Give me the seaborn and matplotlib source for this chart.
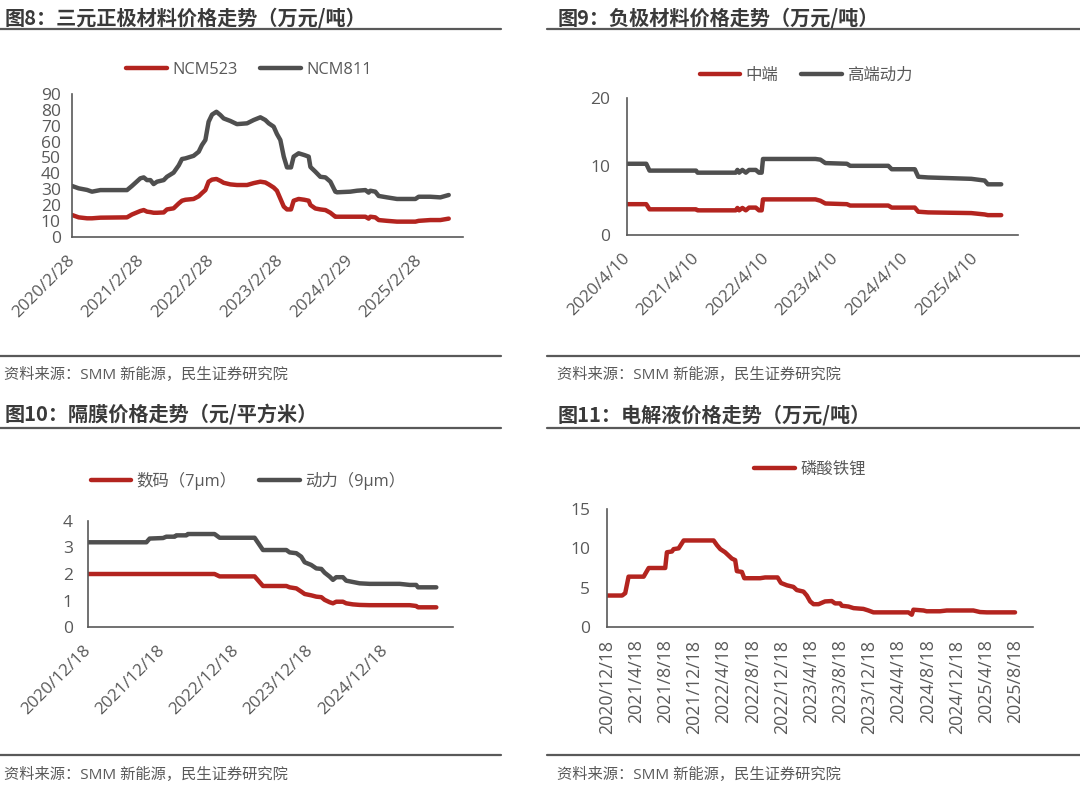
import numpy as np
import pandas as pd
import seaborn as sns
import matplotlib.pyplot as plt
from matplotlib.lines import Line2D

RED = "#B3241F"
GRAY = "#4F4F4F"
TXT = "#595959"

# ---- 图8 三元正极 ----
dates8 = ["2020-02-28", "2020-04-03", "2020-05-17", "2020-06-12", "2020-07-26", "2020-12-13",
          "2021-01-08", "2021-02-21", "2021-03-11", "2021-03-28", "2021-04-15", "2021-05-02",
          "2021-05-20", "2021-06-24", "2021-07-11", "2021-08-15", "2021-09-11", "2021-09-28",
          "2021-10-16", "2021-11-28", "2021-12-25", "2022-01-11", "2022-01-29", "2022-02-15",
          "2022-03-05", "2022-03-28", "2022-04-18", "2022-05-05", "2022-06-09", "2022-07-14",
          "2022-09-05", "2022-10-10", "2022-11-14", "2022-12-10", "2022-12-28", "2023-01-23",
          "2023-02-09", "2023-02-27", "2023-03-17", "2023-04-03", "2023-04-24", "2023-05-08",
          "2023-06-03", "2023-07-03", "2023-07-26", "2023-08-04", "2023-08-30", "2023-09-25",
          "2023-10-22", "2023-11-17", "2023-12-13", "2023-12-22", "2024-03-01", "2024-04-05",
          "2024-05-19", "2024-06-05", "2024-06-14", "2024-07-10", "2024-07-28", "2024-09-10",
          "2024-11-01", "2025-02-06", "2025-02-23", "2025-04-25", "2025-06-17", "2025-07-31"]
ncm523 = [13.7, 12.2, 11.6, 11.6, 12.0, 12.2, 14.0, 16.2, 16.8, 15.8, 15.5, 15.1,
          15.1, 15.3, 17.2, 17.9, 21.0, 22.7, 23.3, 23.8, 25.5, 27.5, 29.4, 34.7,
          36.0, 36.4, 35.2, 34.0, 33.0, 32.6, 32.6, 33.8, 34.7, 34.2, 33.0, 31.0,
          29.0, 24.0, 19.0, 17.2, 17.2, 22.7, 23.8, 23.3, 22.7, 20.0, 17.8, 17.2,
          16.8, 15.1, 12.6, 12.6, 12.6, 12.6, 12.6, 11.4, 12.6, 12.2, 10.5, 10.0,
          9.5, 9.5, 10.0, 10.5, 10.5, 11.4]
ncm811 = [32.0, 30.5, 29.5, 28.4, 29.4, 29.4, 32.0, 36.8, 37.4, 35.7, 35.7, 33.2,
          34.7, 35.7, 37.8, 40.4, 45.0, 49.0, 49.4, 51.0, 53.6, 57.8, 61.0, 72.5,
          77.0, 78.8, 76.7, 74.6, 73.0, 71.0, 71.5, 73.6, 75.3, 73.6, 71.5, 69.4,
          64.8, 61.0, 50.5, 43.7, 43.7, 50.5, 52.6, 51.5, 50.5, 44.0, 41.0, 37.8,
          37.4, 34.7, 28.4, 28.0, 28.4, 29.0, 29.4, 27.8, 29.0, 28.4, 25.7, 24.8,
          23.8, 23.8, 25.2, 25.2, 24.8, 26.3]
ticks8 = ["2020/2/28", "2021/2/28", "2022/2/28", "2023/2/28", "2024/2/29", "2025/2/28"]

# ---- 图9 负极 ----
dates9 = ["2020-04-10", "2020-07-20", "2020-08-06", "2021-04-07", "2021-04-15", "2021-11-01",
          "2021-11-10", "2021-11-19", "2021-12-06", "2021-12-24", "2022-01-10", "2022-02-14",
          "2022-03-03", "2022-03-17", "2022-03-24", "2022-12-24", "2023-01-19", "2023-02-14",
          "2023-06-07", "2023-06-24", "2024-01-10", "2024-01-28", "2024-05-28", "2024-06-15",
          "2024-08-06", "2025-03-20", "2025-05-29", "2025-06-15", "2025-08-24"]
mid_end = [4.5, 4.5, 3.75, 3.75, 3.6, 3.6, 3.95, 3.6, 3.95, 3.6, 4.0, 4.0,
           3.6, 3.6, 5.2, 5.2, 5.0, 4.6, 4.5, 4.3, 4.3, 4.0, 4.0, 3.4,
           3.3, 3.2, 3.0, 2.9, 2.9]
high_power = [10.4, 10.4, 9.4, 9.4, 9.1, 9.1, 9.5, 9.1, 9.5, 9.1, 9.5, 9.5,
              9.1, 9.1, 11.1, 11.1, 11.0, 10.5, 10.4, 10.1, 10.1, 9.6, 9.6, 8.5,
              8.4, 8.2, 7.95, 7.4, 7.4]
ticks9 = ["2020/4/10", "2021/4/10", "2022/4/10", "2023/4/10", "2024/4/10", "2025/4/10"]

# ---- 图10 隔膜 ----
dates10 = ["2020-12-18", "2021-10-01", "2021-10-17", "2021-12-22", "2022-01-07", "2022-02-17",
           "2022-02-25", "2022-04-15", "2022-04-23", "2022-09-01", "2022-09-26", "2023-03-17",
           "2023-04-27", "2023-08-20", "2023-09-05", "2023-10-08", "2023-11-01", "2023-11-18",
           "2023-12-20", "2024-01-14", "2024-02-08", "2024-02-24", "2024-03-20", "2024-04-05",
           "2024-04-21", "2024-05-24", "2024-06-09", "2024-07-12", "2024-08-14", "2024-10-02",
           "2025-02-27", "2025-04-17", "2025-05-19", "2025-05-28", "2025-08-26"]
digital_7um = [2.0, 2.0, 2.0, 2.0, 2.0, 2.0, 2.0, 2.0, 2.0, 2.0, 1.91, 1.91,
               1.55, 1.55, 1.5, 1.46, 1.34, 1.25, 1.2, 1.15, 1.13, 1.03, 0.94, 0.9,
               0.96, 0.96, 0.9, 0.86, 0.84, 0.83, 0.83, 0.83, 0.8, 0.75, 0.75]
power_9um = [3.19, 3.19, 3.33, 3.35, 3.4, 3.4, 3.45, 3.45, 3.5, 3.5, 3.36, 3.36,
             2.9, 2.9, 2.81, 2.78, 2.65, 2.44, 2.34, 2.21, 2.19, 2.05, 1.9, 1.78,
             1.88, 1.88, 1.75, 1.7, 1.65, 1.63, 1.63, 1.59, 1.59, 1.5, 1.5]
ticks10 = ["2020/12/18", "2021/12/18", "2022/12/18", "2023/12/18", "2024/12/18"]

# ---- 图11 电解液 ----
dates11 = ["2020-12-18", "2021-02-19", "2021-03-04", "2021-03-18", "2021-05-20", "2021-06-10",
           "2021-08-18", "2021-08-25", "2021-09-15", "2021-09-22", "2021-10-13", "2021-11-03",
           "2022-03-08", "2022-03-22", "2022-04-05", "2022-04-25", "2022-05-09", "2022-05-23",
           "2022-06-06", "2022-06-13", "2022-07-04", "2022-07-14", "2022-09-18", "2022-10-09",
           "2022-11-30", "2022-12-14", "2023-01-08", "2023-02-04", "2023-02-18", "2023-03-18",
           "2023-04-01", "2023-04-15", "2023-04-29", "2023-05-20", "2023-06-16", "2023-07-14",
           "2023-07-28", "2023-08-18", "2023-08-25", "2023-09-22", "2023-10-13", "2023-11-23",
           "2023-12-14", "2024-01-04", "2024-05-29", "2024-06-12", "2024-06-19", "2024-07-31",
           "2024-08-13", "2024-10-08", "2024-11-05", "2025-02-24", "2025-03-24", "2025-04-21",
           "2025-08-17"]
lfp = [4.0, 4.0, 4.3, 6.4, 6.4, 7.5, 7.5, 9.5, 9.6, 9.9, 10.0, 11.0,
       11.0, 10.4, 9.9, 9.5, 9.1, 8.7, 8.5, 7.1, 7.0, 6.2, 6.2, 6.3,
       6.3, 5.6, 5.3, 5.1, 4.7, 4.5, 4.0, 3.25, 2.9, 2.9, 3.25, 3.3,
       3.0, 3.0, 2.7, 2.6, 2.4, 2.3, 2.1, 1.86, 1.86, 1.56, 2.2, 2.1,
       2.0, 2.0, 2.1, 2.1, 1.9, 1.86, 1.86]
ticks11 = ["2020/12/18", "2021/4/18", "2021/8/18", "2021/12/18", "2022/4/18", "2022/8/18",
           "2022/12/18", "2023/4/18", "2023/8/18", "2023/12/18", "2024/4/18", "2024/8/18",
           "2024/12/18", "2025/4/18", "2025/8/18"]

sns.set_theme(style="white")
plt.rcParams["font.family"] = ["Open Sans", "Noto Sans CJK SC", "DejaVu Sans"]
plt.rcParams["axes.unicode_minus"] = False

W, H = 1080, 792
fig = plt.figure(figsize=(10.8, 7.92), dpi=100)
fig.patch.set_facecolor("white")


def fx(x):
    return x / W


def fy(y):
    return 1 - y / H


def hline(x0, x1, y, lw=1.6):
    fig.add_artist(Line2D([fx(x0), fx(x1)], [fy(y), fy(y)], color=TXT, lw=lw))


def header(x_text, x0, x1, y_title, y_rule, title, y_src_rule, y_src):
    fig.text(fx(x_text), fy(y_title), title, fontsize=14.5, fontweight="bold", color="#3A3A3A",
             va="center", ha="left", family=["Noto Sans CJK SC"])
    hline(x0, x1, y_rule)
    hline(x0, x1, y_src_rule)
    fig.text(fx(x_text - 1), fy(y_src), "资料来源：SMM 新能源，民生证券研究院", fontsize=11,
             color=TXT, va="center", ha="left", family=["Open Sans", "Noto Sans CJK SC"])


def panel(left, right, top, bottom, xmin, xmax, series, ymax, ystep, ticks, rot, ypad, leg_xy):
    ax = fig.add_axes([fx(left), fy(bottom), (right - left) / W, (bottom - top) / H])
    for dates, vals, col, lab in series:
        sns.lineplot(x=pd.to_datetime(dates), y=vals, ax=ax, color=col, lw=3.2, label=lab,
                     solid_joinstyle="round", solid_capstyle="round")
    ax.set_xlim(pd.Timestamp(xmin), pd.Timestamp(xmax))
    ax.set_ylim(0, ymax)
    ax.set_yticks(np.arange(0, ymax + 0.001, ystep))
    ax.set_yticklabels([f"{v:g}" for v in np.arange(0, ymax + 0.001, ystep)])
    ax.set_xticks(pd.to_datetime(ticks, format="%Y/%m/%d"))
    if rot == 45:
        ax.set_xticklabels(ticks, rotation=45, ha="right", va="center", rotation_mode="anchor")
        ax.tick_params(axis="x", pad=15, labelsize=12.3)
    else:
        ax.set_xticklabels(ticks, rotation=90, ha="right", va="center", rotation_mode="anchor")
        ax.tick_params(axis="x", pad=9, labelsize=12.8)
    ax.tick_params(axis="x", length=0, labelcolor=TXT)
    ax.tick_params(axis="y", direction="in", length=4, width=1.0, color=TXT, pad=ypad,
                   labelsize=12.5, labelcolor=TXT)
    for s in ["top", "right"]:
        ax.spines[s].set_visible(False)
    for s in ["left", "bottom"]:
        ax.spines[s].set_color(TXT)
        ax.spines[s].set_linewidth(1.2)
    ax.set_xlabel("")
    ax.set_ylabel("")
    ax.grid(False)
    ax.patch.set_alpha(0)
    ax.legend(loc="center", bbox_to_anchor=(fx(leg_xy[0]), fy(leg_xy[1])),
              bbox_transform=fig.transFigure, ncol=len(series), frameon=False,
              handlelength=2.5, handletextpad=0.3, columnspacing=1.4,
              prop={"family": ["Open Sans", "Noto Sans CJK SC"], "size": 11.8},
              labelcolor=TXT)
    return ax


# 图8
header(5, 0, 501, 17.5, 29.3, "图8：三元正极材料价格走势（万元/吨）", 356, 375)
panel(72, 463, 94, 236.7, "2020-02-28", "2025-10-14",
      [(dates8, ncm523, RED, "NCM523"), (dates8, ncm811, GRAY, "NCM811")],
      90, 10, ticks8, 45, 8, (249, 70))

# 图9
header(558, 547, 1080, 17.5, 29.3, "图9：负极材料价格走势（万元/吨）", 356, 375)
panel(627, 1018, 98, 235, "2020-04-10", "2025-11-20",
      [(dates9, mid_end, RED, "中端"), (dates9, high_power, GRAY, "高端动力")],
      20, 10, ticks9, 45, 12, (806, 76))

# 图10
header(5, 0, 501, 415, 427.7, "图10：隔膜价格走势（元/平方米）", 755, 775)
panel(88, 453, 520.7, 627.3, "2020-12-18", "2025-11-16",
      [(dates10, digital_7um, RED, "数码（7μm）"), (dates10, power_9um, GRAY, "动力（9μm）")],
      4, 1, ticks10, 45, 11, (248, 481))

# 图11
header(558, 547, 1080, 415, 427.7, "图11：电解液价格走势（万元/吨）", 755, 775)
panel(607, 1033, 509, 627, "2020-12-18", "2025-10-31",
      [(dates11, lfp, RED, "磷酸铁锂")],
      15, 5, ticks11, 90, 12, (810, 470))

fig.savefig("out.png", dpi=100, facecolor="white")
